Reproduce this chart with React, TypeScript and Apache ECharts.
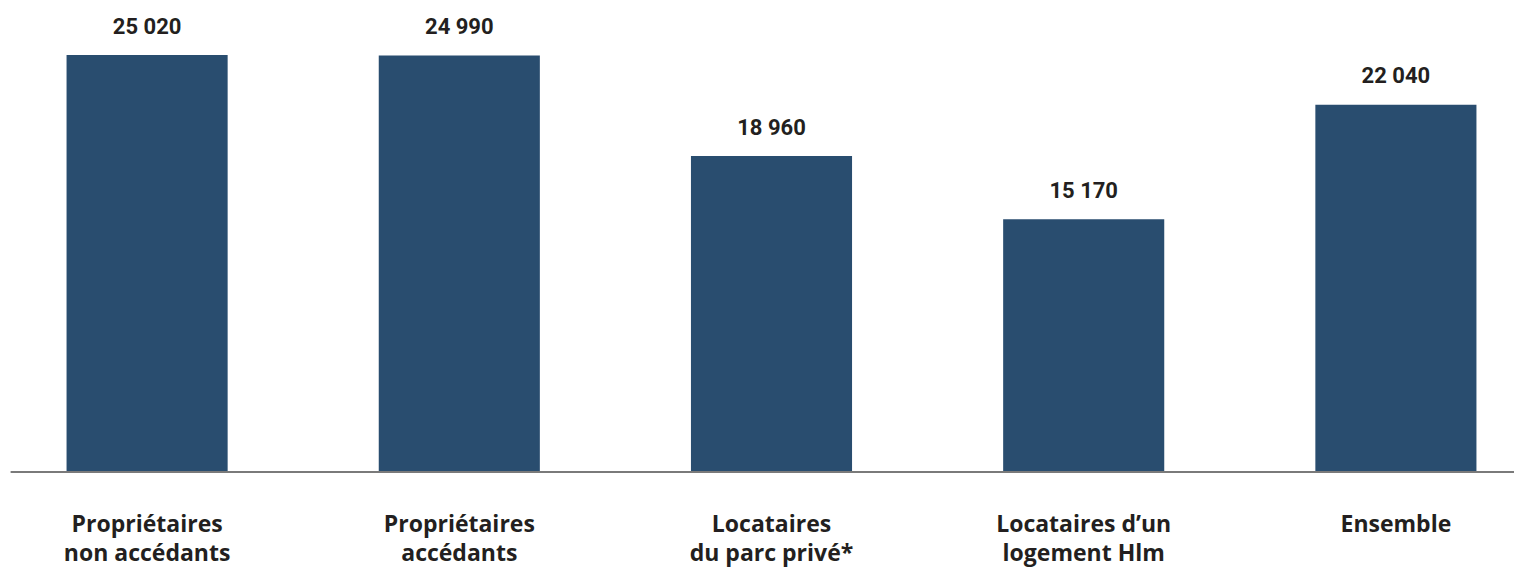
import React, { useEffect, useRef } from "react";
import * as echarts from "echarts";

const categories = [
  "Propriétaires\nnon accédants",
  "Propriétaires\naccédants",
  "Locataires\ndu parc privé*",
  "Locataires d’un\nlogement Hlm",
  "Ensemble",
];
const values = [25020, 24990, 18960, 15170, 22040];

const fmt = (v: number) => {
  const s = String(Math.round(v));
  return s.replace(/\B(?=(\d{3})+(?!\d))/g, " ");
};

export default function App() {
  const ref = useRef<HTMLDivElement>(null);
  useEffect(() => {
    if (!ref.current) return;
    const chart = echarts.init(ref.current, null, { renderer: "svg" });
    chart.setOption({
      animation: false,
      grid: { left: 0, right: 0, top: 22, bottom: 97, containLabel: false },
      xAxis: {
        type: "category",
        data: categories,
        axisLine: { show: false },
        axisTick: { show: false },
        axisLabel: {
          interval: 0,
          margin: 36,
          fontFamily: "Open Sans",
          fontWeight: "bold",
          fontSize: 23,
          lineHeight: 29,
          color: "#231f20",
        },
      },
      yAxis: {
        type: "value",
        min: 0,
        max: 27000,
        show: false,
        splitLine: { show: false },
      },
      graphic: [
        {
          type: "line",
          shape: { x1: 19.6, y1: 472, x2: 1530, y2: 472 },
          style: { stroke: "#7a7a7a", lineWidth: 2 },
          z: 10,
        },
      ],
      series: [
        {
          type: "bar",
          data: values,
          barWidth: "51.6%",
          itemStyle: { color: "#294d6f" },
          label: {
            show: true,
            position: "top",
            distance: 18,
            fontFamily: "Roboto",
            fontWeight: "bold",
            fontSize: 22,
            color: "#231f20",
            formatter: (p: any) => fmt(p.value),
          },
        },
      ],
    });
    return () => chart.dispose();
  }, []);
  return (
    <div
      ref={ref}
      style={{ position: "fixed", left: -8.6, top: 0, width: 1561, height: 569, background: "#fff" }}
    />
  );
}
